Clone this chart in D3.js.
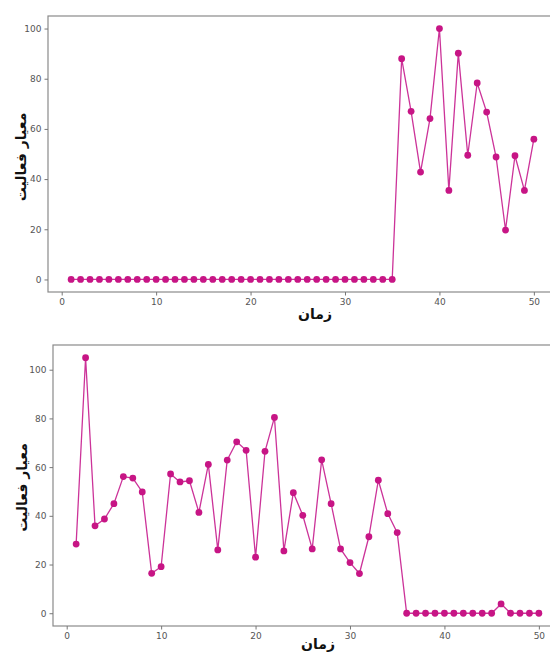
<!DOCTYPE html>
<html>
<head>
<meta charset="utf-8">
<script src="https://cdn.jsdelivr.net/npm/d3@7"></script>
<style>
  body { margin: 0; background: #fff; }
  svg { display: block; }
  .tick text { fill: #555; font-family: "DejaVu Sans", sans-serif; font-size: 9px; }
  .tick line { stroke: #777; }
  .axis-label { font-family: "DejaVu Sans", sans-serif; font-weight: 700; font-size: 14px; fill: #111; }
</style>
</head>
<body>
<div id="chart"></div>
<script>
// time steps 1..50
const timeSteps = d3.range(1, 51);

// top panel: activity measure
const activityTop = [
  0, 0, 0, 0, 0, 0, 0, 0, 0, 0,
  0, 0, 0, 0, 0, 0, 0, 0, 0, 0,
  0, 0, 0, 0, 0, 0, 0, 0, 0, 0,
  0, 0, 0, 0, 0, 88, 67, 42.8, 64.1, 100,
  35.5, 90.2, 49.5, 78.3, 66.7, 48.8, 19.7, 49.3, 35.5, 55.9
];

// bottom panel: activity measure
const activityBottom = [
  28.4, 104.9, 35.9, 38.7, 45, 56.1, 55.5, 49.8, 16.4, 19.1,
  57.2, 53.9, 54.4, 41.4, 61.1, 26, 62.9, 70.4, 66.9, 23,
  66.5, 80.4, 25.6, 49.5, 40.2, 26.4, 63, 45, 26.4, 20.8,
  16.3, 31.4, 54.6, 40.9, 33.1, 0, 0, 0, 0, 0,
  0, 0, 0, 0, 0, 3.8, 0, 0, 0, 0
];

const xTicks = [0, 10, 20, 30, 40, 50];
const yTicks = [0, 20, 40, 60, 80, 100];
const yLabel = "معیار فعالیت";
const xLabel = "زمان";

const width = 550, height = 655;
const lineColor = "#c71585";

const svg = d3.select("#chart").append("svg")
    .attr("width", width)
    .attr("height", height);

function drawPanel(values, box) {
    const g = svg.append("g");

    // matplotlib-style 5% margins
    const xExt = d3.extent(timeSteps);
    const xPad = (xExt[1] - xExt[0]) * 0.05;
    const yExt = d3.extent(values);
    const yPad = (yExt[1] - yExt[0]) * 0.05;

    const x = d3.scaleLinear()
        .domain([xExt[0] - xPad, xExt[1] + xPad])
        .range([box.left, box.right]);
    const y = d3.scaleLinear()
        .domain([yExt[0] - yPad, yExt[1] + yPad])
        .range([box.bottom, box.top]);

    // axes frame
    g.append("rect")
        .attr("x", box.left)
        .attr("y", box.top)
        .attr("width", box.right - box.left)
        .attr("height", box.bottom - box.top)
        .attr("fill", "none")
        .attr("stroke", "#8a8a8a")
        .attr("stroke-width", 1.2);

    const xAxis = g.append("g")
        .attr("transform", `translate(0,${box.bottom})`)
        .call(d3.axisBottom(x).tickValues(xTicks).tickSize(3.5).tickPadding(3));
    xAxis.select(".domain").remove();

    const yAxis = g.append("g")
        .attr("transform", `translate(${box.left},0)`)
        .call(d3.axisLeft(y).tickValues(yTicks).tickSize(3.5).tickPadding(3));
    yAxis.select(".domain").remove();

    const pts = timeSteps.map((t, i) => [t, values[i]]);

    g.append("path")
        .datum(pts)
        .attr("fill", "none")
        .attr("stroke", "#cc3399")
        .attr("stroke-width", 1.3)
        .attr("d", d3.line().x(d => x(d[0])).y(d => y(d[1])));

    g.selectAll("circle")
        .data(pts)
        .join("circle")
        .attr("cx", d => x(d[0]))
        .attr("cy", d => y(d[1]))
        .attr("r", 3.4)
        .attr("fill", lineColor);

    // axis labels
    g.append("text")
        .attr("class", "axis-label")
        .attr("text-anchor", "middle")
        .attr("direction", "rtl")
        .attr("transform", `translate(${box.yLabelX},${(box.top + box.bottom) / 2 + box.yLabelShift}) rotate(-90)`)
        .text(yLabel);

    g.append("text")
        .attr("class", "axis-label")
        .attr("text-anchor", "middle")
        .attr("direction", "rtl")
        .attr("x", box.xLabelX)
        .attr("y", box.bottom + box.xLabelDy)
        .text(xLabel);
}

drawPanel(activityTop, { left: 48, right: 557, top: 16, bottom: 292, xLabelX: 315, xLabelDy: 27, yLabelX: 26, yLabelShift: 3 });
drawPanel(activityBottom, { left: 53, right: 562, top: 345, bottom: 626, xLabelX: 318, xLabelDy: 23, yLabelX: 27, yLabelShift: 2 });
</script>
</body>
</html>
